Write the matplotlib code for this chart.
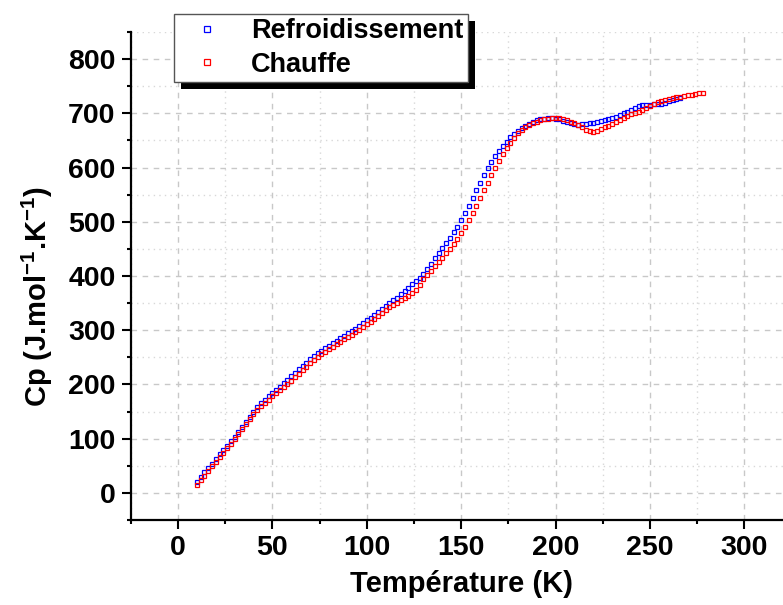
import matplotlib
matplotlib.use("Agg")
import matplotlib.pyplot as plt
from matplotlib.ticker import MultipleLocator
from matplotlib.patches import Rectangle

plt.rcParams['font.family'] = ['Liberation Sans', 'DejaVu Sans']
plt.rcParams['font.weight'] = 'bold'
plt.rcParams['mathtext.fontset'] = 'custom'
plt.rcParams['mathtext.rm'] = 'Liberation Sans:bold'
plt.rcParams['mathtext.it'] = 'Liberation Sans:bold'
plt.rcParams['mathtext.bf'] = 'Liberation Sans:bold'

# Chauffe (heating) - red
t_chauffe = [10, 12, 14, 16, 18, 20, 22, 24, 26, 28, 30, 32, 34, 36, 38, 40, 42, 44, 46, 48,
             50, 52, 54, 56, 58, 60, 62, 64, 66, 68, 70, 72, 74, 76, 78, 80, 82, 84, 86, 88,
             90, 92, 94, 96, 98, 100, 102, 104, 106, 108, 110, 112, 114, 116, 118, 120, 122, 124, 126, 128,
             130, 132, 134, 136, 138, 140, 142, 144, 146, 148, 150, 152, 154, 156, 158, 160, 162, 164, 166, 168,
             170, 172, 174, 176, 178, 180, 182, 184, 186, 188, 190, 192, 194, 196, 198, 200, 202, 204, 206, 208,
             210, 212, 214, 216, 218, 220, 222, 224, 226, 228, 230, 232, 234, 236, 238, 240, 242, 244, 246, 248,
             250, 252, 254, 256, 258, 260, 262, 264, 266, 268, 270, 272, 274, 276, 278]
cp_chauffe = [15, 23, 32, 40, 49, 57, 66, 74, 83, 91, 100, 109, 118, 127, 136, 145, 153, 160, 166, 172,
              178, 184, 190, 195, 201, 207, 214, 220, 227, 233, 239, 245, 251, 256, 260, 265, 269, 274, 278, 283,
              287, 292, 296, 301, 306, 311, 316, 321, 326, 331, 337, 342, 347, 351, 355, 359, 363, 368, 375, 384,
              394, 402, 410, 418, 426, 434, 442, 450, 459, 469, 480, 491, 503, 516, 530, 544, 558, 572, 586, 600,
              613, 625, 636, 646, 655, 663, 669, 674, 678, 682, 685, 687, 689, 690, 691, 692, 692, 690, 688, 685,
              682, 678, 674, 670, 667, 666, 668, 671, 674, 677, 680, 684, 688, 692, 695, 698, 700, 703, 706, 710,
              714, 718, 721, 723, 725, 727, 729, 730, 731, 732, 733, 734, 735, 737, 738]

# Refroidissement (cooling) - blue
t_refroid = [10, 12, 14, 16, 18, 20, 22, 24, 26, 28, 30, 32, 34, 36, 38, 40, 42, 44, 46, 48,
             50, 52, 54, 56, 58, 60, 62, 64, 66, 68, 70, 72, 74, 76, 78, 80, 82, 84, 86, 88,
             90, 92, 94, 96, 98, 100, 102, 104, 106, 108, 110, 112, 114, 116, 118, 120, 122, 124, 126, 128,
             130, 132, 134, 136, 138, 140, 142, 144, 146, 148, 150, 152, 154, 156, 158, 160, 162, 164, 166, 168,
             170, 172, 174, 176, 178, 180, 182, 184, 186, 188, 190, 192, 194, 196, 198, 200, 202, 204, 206, 208,
             210, 212, 214, 216, 218, 220, 222, 224, 226, 228, 230, 232, 234, 236, 238, 240, 242, 244, 246, 248,
             250, 252, 254, 256, 258, 260, 262, 264, 266]
cp_refroid = [21, 29, 38, 46, 54, 62, 71, 79, 87, 96, 104, 113, 122, 131, 140, 150, 158, 165, 172, 178,
              184, 190, 196, 202, 208, 215, 221, 228, 234, 240, 247, 253, 258, 262, 267, 271, 276, 280, 285, 289,
              294, 298, 303, 308, 313, 318, 323, 329, 334, 339, 344, 350, 355, 360, 366, 372, 378, 385, 391, 397,
              404, 413, 423, 433, 442, 452, 461, 471, 481, 491, 503, 516, 530, 544, 558, 572, 586, 600, 611, 622,
              631, 640, 648, 656, 662, 668, 673, 677, 681, 684, 687, 689, 690, 691, 691, 690, 689, 686, 684, 682,
              680, 679, 680, 681, 682, 683, 684, 686, 687, 689, 691, 694, 697, 700, 703, 707, 710, 713, 715, 716,
              716, 717, 717, 718, 720, 722, 724, 726, 728]

fig = plt.figure(figsize=(7.83, 6.05), dpi=100)
ax = fig.add_axes([0.167, 0.1405, 0.844, 0.8065])

ax.plot(t_refroid, cp_refroid, 's', ls='none', mfc='none', mec='#0000ff', ms=3.5, mew=0.9,
        label='Refroidissement', zorder=3)
ax.plot(t_chauffe, cp_chauffe, 's', ls='none', mfc='none', mec='#ff0000', ms=3.5, mew=0.9,
        label='Chauffe', zorder=4)

ax.set_xlim(-25, 325)
ax.set_ylim(-50, 850)
ax.xaxis.set_major_locator(MultipleLocator(50))
ax.xaxis.set_minor_locator(MultipleLocator(25))
ax.yaxis.set_major_locator(MultipleLocator(100))
ax.yaxis.set_minor_locator(MultipleLocator(50))

ax.grid(which='major', color='#c8c8c8', ls=(0, (4, 4)), lw=1.0, zorder=0)
ax.grid(which='minor', color='#d8d8d8', ls=(0, (1, 3)), lw=1.0, zorder=0)
ax.set_axisbelow(True)

ax.spines['top'].set_visible(False)
ax.spines['right'].set_visible(False)
ax.spines['left'].set_linewidth(1.6)
ax.spines['bottom'].set_linewidth(1.6)
ax.tick_params(which='major', direction='out', length=6.5, width=1.5, labelsize=20.5, pad=4.5)
ax.tick_params(which='minor', direction='out', length=3.2, width=1.5)
for lab in ax.get_xticklabels() + ax.get_yticklabels():
    lab.set_fontweight('bold')

ax.set_xlabel('Température (K)', fontsize=21, fontweight='bold', labelpad=6)
ax.set_ylabel(r'Cp (J.mol$^{-1}$.K$^{-1}$)', fontsize=21, fontweight='bold')
ax.yaxis.set_label_coords(-0.114, 0.457)

leg = ax.legend(loc='upper left', bbox_to_anchor=(174 / 783, 1 - 14 / 605),
                bbox_transform=fig.transFigure, borderaxespad=0, fontsize=19.5,
                handlelength=2.1, handletextpad=0.6, borderpad=0.15, labelspacing=0.28,
                markerscale=1.1, fancybox=False, framealpha=1, edgecolor='#555555')
leg.get_frame().set_linewidth(1.0)
leg.set_zorder(10)

fig.canvas.draw()
bb = leg.get_window_extent().transformed(fig.transFigure.inverted())
dx, dy = 7 / 783, 7 / 605
shadow = Rectangle((bb.x0 + dx, bb.y0 - dy), bb.width, bb.height,
                   transform=fig.transFigure, facecolor='black', edgecolor='none',
                   zorder=9, clip_on=False)
ax.add_patch(shadow)

fig.savefig('out.png', dpi=100)
